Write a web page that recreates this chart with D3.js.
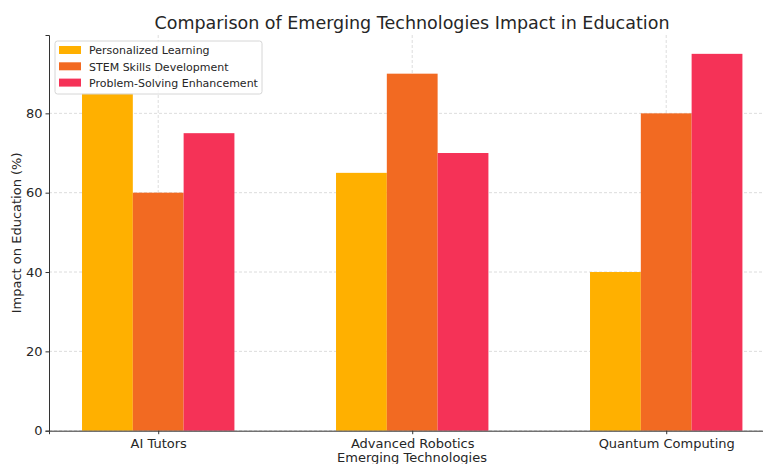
<!DOCTYPE html>
<html>
<head>
<meta charset="utf-8">
<script src="https://cdn.jsdelivr.net/npm/d3@7"></script>
<style>
  body { margin: 0; background: white; }
  text { font-family: "DejaVu Sans", sans-serif; fill: #262626; }
</style>
</head>
<body>
<div id="chart-area"></div>
<script>
// data
const technologies = ["AI Tutors", "Advanced Robotics", "Quantum Computing"];
const seriesNames = ["Personalized Learning", "STEM Skills Development", "Problem-Solving Enhancement"];
const personalized = [85, 65, 40];
const stem = [60, 90, 80];
const problemSolving = [75, 70, 95];
const yTicks = [0, 20, 40, 60, 80];
const colors = ["#FFB000", "#F26A22", "#F53257"];

const allSeries = [personalized, stem, problemSolving];

const width = 763, height = 464;
const plot = {left: 49, top: 35, bottom: 430.7};

const svg = d3.select("#chart-area").append("svg")
  .attr("width", width)
  .attr("height", height);

// x as a linear scale over category index, like matplotlib
const barW = 0.2;
const x = d3.scaleLinear().domain([-0.43, 2.43]).range([plot.left, plot.left + 2.86 * 254]);
const y = d3.scaleLinear().domain([0, 99.75]).range([plot.bottom, plot.top]);

// grid
const grid = svg.append("g").attr("stroke", "#d4d4d4").attr("stroke-width", 0.8).attr("stroke-dasharray", "3,2");
grid.selectAll(".hg").data(yTicks).join("line")
  .attr("x1", plot.left).attr("x2", width)
  .attr("y1", d => y(d)).attr("y2", d => y(d));
grid.selectAll(".vg").data(technologies).join("line")
  .attr("x1", (d, i) => x(i)).attr("x2", (d, i) => x(i))
  .attr("y1", plot.top).attr("y2", plot.bottom);

// bars
allSeries.forEach((vals, s) => {
  svg.append("g").selectAll("rect").data(vals).join("rect")
    .attr("x", (d, i) => x(i + (s - 1) * barW - barW / 2))
    .attr("width", x(barW) - x(0))
    .attr("y", d => y(d))
    .attr("height", d => y(0) - y(d))
    .attr("fill", colors[s]);
});

// axes
const xAxis = d3.axisBottom(x).tickValues([0, 1, 2]).tickFormat(i => technologies[i]).tickSizeOuter(0).tickSize(3.5);
svg.append("g").attr("transform", `translate(0,${plot.bottom})`).call(xAxis)
  .call(g => g.select(".domain").attr("stroke", "#333").attr("stroke-width", 1))
  .call(g => g.selectAll(".tick line").attr("stroke", "#333"))
  .call(g => g.selectAll(".tick text").attr("font-size", 13).attr("dy", "0.85em").style("font-family", "DejaVu Sans").attr("fill", "#262626"));

const yAxis = d3.axisLeft(y).tickValues(yTicks).tickSizeOuter(0).tickSize(3.5);
svg.append("g").attr("transform", `translate(${plot.left},0)`).call(yAxis)
  .call(g => g.select(".domain").attr("stroke", "#333").attr("stroke-width", 1))
  .call(g => g.selectAll(".tick line").attr("stroke", "#333"))
  .call(g => g.selectAll(".tick text").attr("font-size", 13).style("font-family", "DejaVu Sans").attr("fill", "#262626"));

// labels
svg.append("text")
  .attr("x", 412).attr("y", 29)
  .attr("text-anchor", "middle")
  .attr("font-size", 17.5)
  .text("Comparison of Emerging Technologies Impact in Education");

svg.append("text")
  .attr("x", 412).attr("y", 462)
  .attr("text-anchor", "middle")
  .attr("font-size", 13)
  .text("Emerging Technologies");

svg.append("text")
  .attr("transform", `translate(21,${(plot.top + plot.bottom) / 2}) rotate(-90)`)
  .attr("text-anchor", "middle")
  .attr("font-size", 13)
  .text("Impact on Education (%)");

// legend
const legend = svg.append("g").attr("transform", "translate(55,41)");
legend.append("rect")
  .attr("width", 207).attr("height", 53).attr("rx", 2.5)
  .attr("fill", "white").attr("fill-opacity", 0.8)
  .attr("stroke", "#d6d6d6");
seriesNames.forEach((name, i) => {
  const row = legend.append("g").attr("transform", `translate(4,${5 + i * 16.3})`);
  row.append("rect").attr("width", 22).attr("height", 8).attr("fill", colors[i]);
  row.append("text").attr("x", 30).attr("y", 8.3).attr("font-size", 11).text(name);
});
</script>
</body>
</html>
